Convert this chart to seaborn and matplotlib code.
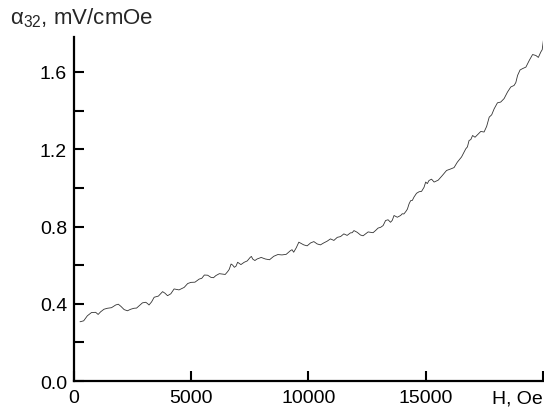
import numpy as np
import pandas as pd
import matplotlib
matplotlib.use("Agg")
import matplotlib.pyplot as plt
import seaborn as sns

# --- data ---
field_oe = [256, 570, 925, 1140, 1425, 1780, 2000, 2280, 2560, 2780,
            3060, 3200, 3420, 3780, 3990, 4270, 4700, 4990, 5340, 5560,
            5840, 6050, 6340, 6550, 6700, 6840, 6980, 7260, 7520, 7620,
            7810, 8160, 8520, 8870, 9230, 9370, 9590, 9800, 10090, 10370,
            10650, 10940, 11230, 11510, 11790, 11940, 12220, 12440, 12650, 12860,
            13080, 13290, 13500, 13650, 13930, 14070, 14150, 14290, 14360, 14500,
            14720, 14930, 15000, 15140, 15360, 15710, 16070, 16350, 16710, 16850,
            17000, 17210, 17490, 17710, 17920, 18200, 18490, 18770, 18920, 19130,
            19420, 19700, 19910, 20030]
alpha32 = [0.307, 0.338, 0.356, 0.359, 0.377, 0.394, 0.387, 0.364, 0.377, 0.390,
           0.408, 0.394, 0.434, 0.463, 0.442, 0.477, 0.485, 0.511, 0.528, 0.549,
           0.537, 0.546, 0.554, 0.566, 0.606, 0.589, 0.615, 0.615, 0.641, 0.632,
           0.632, 0.632, 0.646, 0.653, 0.675, 0.667, 0.719, 0.705, 0.715, 0.710,
           0.715, 0.736, 0.744, 0.762, 0.767, 0.779, 0.756, 0.762, 0.770, 0.779,
           0.796, 0.831, 0.822, 0.857, 0.857, 0.865, 0.877, 0.917, 0.934, 0.952,
           0.980, 1.003, 1.030, 1.038, 1.030, 1.064, 1.098, 1.133, 1.202, 1.245,
           1.271, 1.275, 1.289, 1.366, 1.409, 1.444, 1.496, 1.530, 1.582, 1.617,
           1.660, 1.685, 1.703, 1.772]

# in-between readings (the small zig-zag of the noisy trace)
field_oe_mid = [413, 748, 1030, 1280, 1600, 1890, 2140, 2420, 2670, 2920,
                3130, 3310, 3600, 3880, 4130, 4480, 4850, 5160, 5450, 5700,
                5950, 6200, 6450, 6620, 6770, 6910, 7120, 7390, 7570, 7715,
                7985, 8340, 8695, 9050, 9300, 9480, 9695, 9945, 10230, 10510,
                10795, 11085, 11370, 11650, 11865, 12080, 12330, 12545, 12755, 12970,
                13185, 13395, 13575, 13790, 14000, 14220, 14430, 14610, 14825, 15070,
                15250, 15535, 15890, 16210, 16530, 16780, 16925, 17105, 17350, 17600,
                17815, 18060, 18345, 18630, 18845, 19025, 19275, 19560, 19805, 19970]
alpha32_mid = [0.312, 0.355, 0.345, 0.372, 0.380, 0.398, 0.370, 0.372, 0.378, 0.405,
               0.402, 0.410, 0.440, 0.455, 0.452, 0.472, 0.505, 0.512, 0.532, 0.548,
               0.535, 0.556, 0.552, 0.578, 0.600, 0.595, 0.603, 0.622, 0.645, 0.624,
               0.640, 0.628, 0.655, 0.656, 0.680, 0.690, 0.712, 0.700, 0.722, 0.705,
               0.724, 0.728, 0.748, 0.754, 0.768, 0.770, 0.752, 0.772, 0.768, 0.792,
               0.805, 0.835, 0.832, 0.848, 0.866, 0.890, 0.935, 0.972, 0.982, 1.022,
               1.045, 1.040, 1.090, 1.105, 1.160, 1.212, 1.250, 1.262, 1.292, 1.318,
               1.378, 1.440, 1.462, 1.522, 1.545, 1.610, 1.625, 1.690, 1.675, 1.715]

x_ticks = [0, 5000, 10000, 15000, 20000]
x_tick_labels = ["0", "5000", "10000", "15000", "H, Oe"]
y_ticks = [0.0, 0.2, 0.4, 0.6, 0.8, 1.0, 1.2, 1.4, 1.6]
y_tick_labels = ["0.0", "", "0.4", "", "0.8", "", "1.2", "", "1.6"]

df = pd.DataFrame({"H": field_oe + field_oe_mid, "a32": alpha32 + alpha32_mid})
df = df.sort_values("H").reset_index(drop=True)

sns.set_style("ticks")
plt.rcParams["font.family"] = ["Liberation Sans", "DejaVu Sans"]
plt.rcParams["mathtext.fontset"] = "custom"
plt.rcParams["mathtext.rm"] = "Liberation Sans"
plt.rcParams["mathtext.it"] = "Liberation Sans:italic"

fig = plt.figure(figsize=(5.44, 4.10), dpi=100)
ax = fig.add_axes([0.136, 0.068, 0.862, 0.839])

sns.lineplot(data=df, x="H", y="a32", ax=ax, color="#333333", linewidth=0.6,
             sort=False)

ax.set_xlim(0, 20000)
ax.set_ylim(0, 1.78)
ax.set_xticks(x_ticks)
ax.set_xticklabels(x_tick_labels)
ax.set_yticks(y_ticks)
ax.set_yticklabels(y_tick_labels)
ax.set_xlabel("")
ax.set_ylabel("")

ax.tick_params(direction="in", length=7, width=1.5, labelsize=14,
               color="black", labelcolor="black")
ax.tick_params(axis="y", pad=5)
ax.tick_params(axis="x", pad=6)
# last x label is the axis name, kept inside the figure
ax.get_xticklabels()[-1].set_horizontalalignment("right")

for side in ["top", "right"]:
    ax.spines[side].set_visible(False)
for side in ["left", "bottom"]:
    ax.spines[side].set_linewidth(1.6)
    ax.spines[side].set_color("black")

fig.text(0.018, 0.955, r"$\mathrm{\alpha}_{32}$, mV/cmOe", fontsize=16,
         va="center", ha="left")

fig.savefig("out.png", dpi=100)
